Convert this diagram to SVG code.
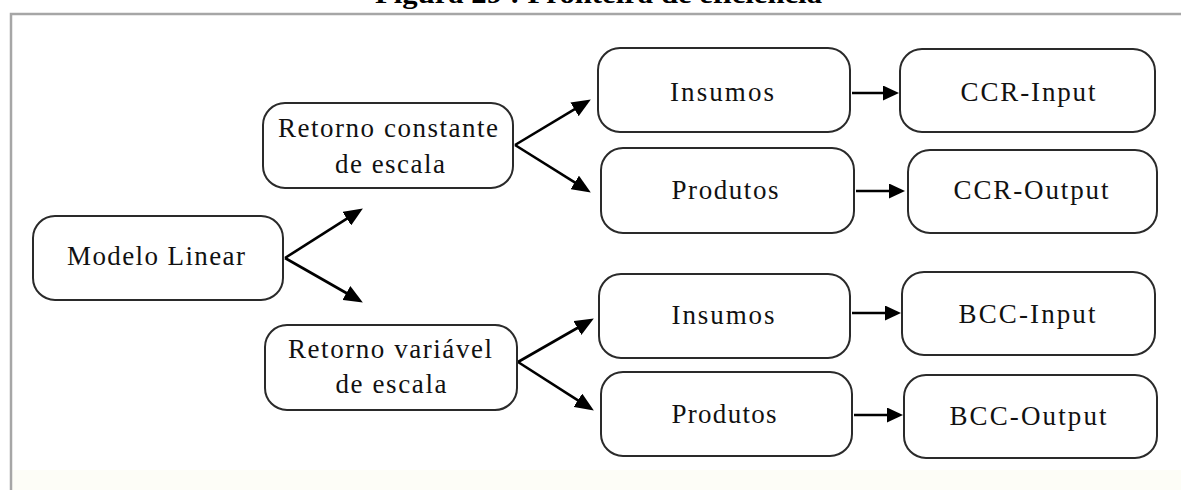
<svg xmlns="http://www.w3.org/2000/svg" width="1181" height="490" viewBox="0 0 1181 490">
  <defs>
    <style>
      .box { fill: #ffffff; stroke: #2a2a2a; stroke-width: 2; }
      .lbl { font-family: "Liberation Serif", "Times New Roman", serif; font-size: 27px; fill: #111111; text-anchor: middle; }
      .title { font-family: "Liberation Serif", "Times New Roman", serif; font-size: 27px; font-weight: bold; fill: #000000; }
      .edge { fill: none; stroke: #000000; stroke-width: 2.6; }
    </style>
    <marker id="head" markerUnits="userSpaceOnUse" markerWidth="20" markerHeight="16" refX="8" refY="8" orient="auto">
      <path d="M0,0 L19,8 L0,16 z" fill="#000000"/>
    </marker>
    <marker id="head-s" markerUnits="userSpaceOnUse" markerWidth="18" markerHeight="15" refX="7" refY="7.5" orient="auto">
      <path d="M0,0 L16,7.5 L0,15 z" fill="#000000"/>
    </marker>
  </defs>

  <rect x="0" y="0" width="1181" height="490" fill="#ffffff"/>
  <rect x="12" y="470" width="1169" height="20" fill="#fdfdf7"/>

  <!-- caption, cut at the top edge -->
  <text class="title" x="375" y="3" textLength="447" lengthAdjust="spacingAndGlyphs">Figura 29 : Fronteira de eficiência</text>

  <!-- frame -->
  <path d="M11,490 V14 H1181" fill="none" stroke="#a6a6a6" stroke-width="2.5"/>

  <g id="connectors">
    <path class="edge" d="M285,258 L353.6,214.4" marker-end="url(#head)"/>
    <path class="edge" d="M285,258 L353.3,297.0" marker-end="url(#head)"/>
    <path class="edge" d="M515,145 L581.4,105.2" marker-end="url(#head)"/>
    <path class="edge" d="M515,145 L581.5,186.7" marker-end="url(#head)"/>
    <path class="edge" d="M518,362 L584.3,324.0" marker-end="url(#head)"/>
    <path class="edge" d="M518,362 L584.6,404.6" marker-end="url(#head)"/>
    <path class="edge" d="M852,93 H890" marker-end="url(#head-s)"/>
    <path class="edge" d="M856,191 H896" marker-end="url(#head-s)"/>
    <path class="edge" d="M852,313 H892" marker-end="url(#head-s)"/>
    <path class="edge" d="M854,415 H894" marker-end="url(#head-s)"/>
  </g>

  <g id="modelo-linear">
    <rect class="box" x="33" y="216" width="250" height="84" rx="22"/>
    <text class="lbl" x="156" y="265" textLength="178" lengthAdjust="spacing">Modelo Linear</text>
  </g>

  <g id="retorno-constante">
    <rect class="box" x="263" y="103" width="250" height="85" rx="22"/>
    <text class="lbl" x="388" y="137" textLength="220" lengthAdjust="spacing">Retorno constante</text>
    <text class="lbl" x="390" y="173" textLength="110" lengthAdjust="spacing">de escala</text>
  </g>

  <g id="retorno-variavel">
    <rect class="box" x="265" y="325" width="252" height="85" rx="22"/>
    <text class="lbl" x="390" y="358" textLength="204" lengthAdjust="spacing">Retorno variável</text>
    <text class="lbl" x="391" y="393" textLength="111" lengthAdjust="spacing">de escala</text>
  </g>

  <g id="insumos-crs">
    <rect class="box" x="598" y="48" width="252" height="84" rx="22"/>
    <text class="lbl" x="722" y="101" textLength="104" lengthAdjust="spacing">Insumos</text>
  </g>

  <g id="produtos-crs">
    <rect class="box" x="601" y="148" width="253" height="85" rx="22"/>
    <text class="lbl" x="725" y="199" textLength="107" lengthAdjust="spacing">Produtos</text>
  </g>

  <g id="ccr-input">
    <rect class="box" x="900" y="49" width="255" height="83" rx="22"/>
    <text class="lbl" x="1028" y="101" textLength="135" lengthAdjust="spacing">CCR-Input</text>
  </g>

  <g id="ccr-output">
    <rect class="box" x="908" y="150" width="249" height="83" rx="22"/>
    <text class="lbl" x="1031" y="199" textLength="155" lengthAdjust="spacing">CCR-Output</text>
  </g>

  <g id="insumos-vrs">
    <rect class="box" x="599" y="274" width="251" height="84" rx="22"/>
    <text class="lbl" x="723" y="324" textLength="103" lengthAdjust="spacing">Insumos</text>
  </g>

  <g id="produtos-vrs">
    <rect class="box" x="601" y="372" width="251" height="84" rx="22"/>
    <text class="lbl" x="724" y="423" textLength="105" lengthAdjust="spacing">Produtos</text>
  </g>

  <g id="bcc-input">
    <rect class="box" x="902" y="272" width="253" height="83" rx="22"/>
    <text class="lbl" x="1027" y="323" textLength="137" lengthAdjust="spacing">BCC-Input</text>
  </g>

  <g id="bcc-output">
    <rect class="box" x="904" y="375" width="253" height="83" rx="22"/>
    <text class="lbl" x="1028" y="425" textLength="157" lengthAdjust="spacing">BCC-Output</text>
  </g>
</svg>
